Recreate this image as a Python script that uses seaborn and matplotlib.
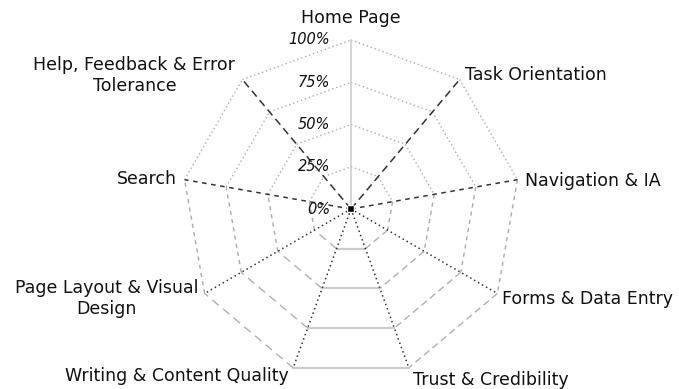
import numpy as np
import pandas as pd
import matplotlib
matplotlib.use("Agg")
import matplotlib.pyplot as plt
import seaborn as sns

# Categories (clockwise from top) and the single series (all zero)
categories = ["Home Page", "Task Orientation", "Navigation & IA", "Forms & Data Entry",
              "Trust & Credibility", "Writing & Content Quality",
              "Page Layout & Visual\nDesign", "Search", "Help, Feedback & Error\nTolerance"]
scores = [0, 0, 0, 0, 0, 0, 0, 0, 0]
levels = [0.25, 0.5, 0.75, 1.0]
level_labels = ["25%", "50%", "75%", "100%"]

sns.set_style("white")
plt.rcParams["font.family"] = ["DejaVu Sans"]

W, H = 679, 389
cx, cy, R = 351, 209, 169
fig = plt.figure(figsize=(W / 100, H / 100), dpi=100)
ax = fig.add_axes([0, 0, 1, 1])
ax.set_xlim(-cx / R, (W - cx) / R)
ax.set_ylim(-(H - cy) / R, cy / R)
ax.axis("off")

n = len(categories)
ang = np.deg2rad(90 - 360 / n * np.arange(n))

# spoke styles
spoke_style = [("#cccccc", "-"), ("#333333", (0, (5, 3))), ("#333333", (0, (3, 3))),
               ("#333333", (0, (1, 2))), ("#333333", (0, (1, 2))), ("#333333", (0, (1, 2))),
               ("#333333", (0, (1, 2))), ("#333333", (0, (3, 3))), ("#333333", (0, (5, 3)))]
# ring segment styles (segment i joins axis i and i+1)
ring_style = [("#ababab", (0, (1, 2)), 1), ("#ababab", (0, (1, 2)), 1),
              ("#ababab", (0, (3, 3)), 1), ("#b0b0b0", (0, (5, 3)), 1),
              ("#cccccc", "-", 1.6), ("#b0b0b0", (0, (6, 4)), 1),
              ("#ababab", (0, (3, 3)), 1), ("#ababab", (0, (1, 2)), 1),
              ("#ababab", (0, (1, 2)), 1)]

for lv in levels:
    for i in range(n):
        j = (i + 1) % n
        c, ls, lw = ring_style[i]
        ax.plot([lv * np.cos(ang[i]), lv * np.cos(ang[j])],
                [lv * np.sin(ang[i]), lv * np.sin(ang[j])],
                color=c, ls=ls, lw=lw, zorder=1)

for i in range(n):
    c, ls = spoke_style[i]
    ax.plot([0, np.cos(ang[i])], [0, np.sin(ang[i])], color=c, ls=ls, lw=1.1, zorder=2)

# category labels: (dx, dy) pixel offsets from vertex, alignment
label_pos = [(0, 22, "center"), (5, 5, "left"), (8, -1, "left"), (5, -5, "left"),
             (4, -12, "left"), (-4, -8, "right"), (-6, -5, "right"),
             (-8, 1, "right"), (-7, 4, "right")]
for i, lab in enumerate(categories):
    dx, dy, ha = label_pos[i]
    ax.annotate(lab, (np.cos(ang[i]), np.sin(ang[i])), xytext=(dx * 0.72, dy * 0.72),
                textcoords="offset points", ha=ha, va="center", multialignment="center",
                fontsize=12.5, color="#111111")

# radial tick labels
for lv, lab in zip([0] + levels, ["0%"] + level_labels):
    ax.text(-21 / R, lv, lab, ha="right", va="center", fontsize=10.5, style="italic",
            color="#111111")

# data series
df = pd.DataFrame({"x": np.array(scores) * np.cos(ang), "y": np.array(scores) * np.sin(ang)})
sns.lineplot(data=df, x="x", y="y", sort=False, color="black", lw=1, ax=ax, zorder=3)
sns.scatterplot(data=df, x="x", y="y", color="black", marker="s", s=14, ax=ax, zorder=4)
ax.set_xlabel("")
ax.set_ylabel("")

fig.savefig("out.png", dpi=100)
